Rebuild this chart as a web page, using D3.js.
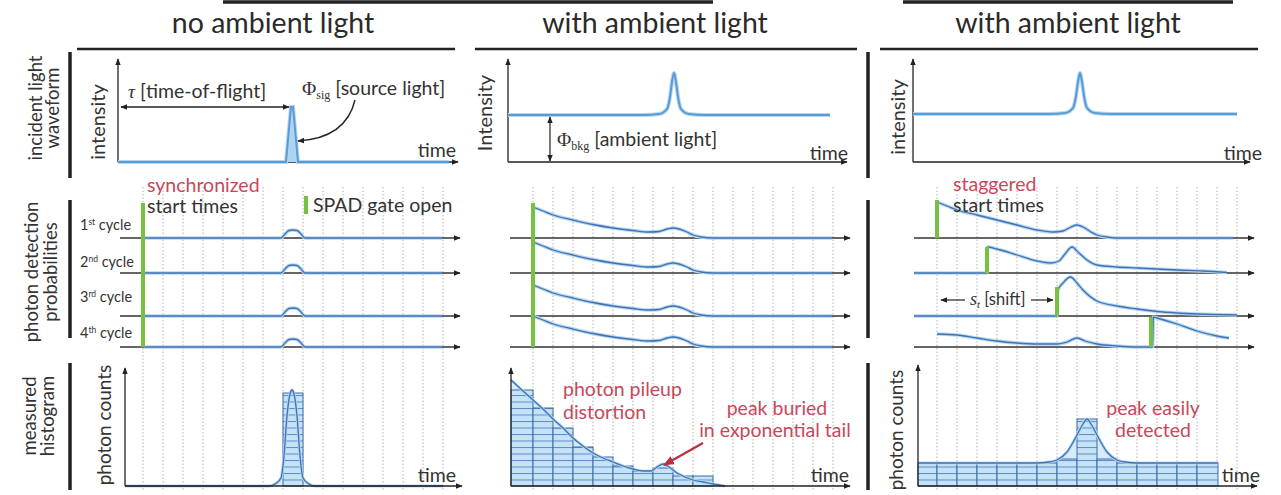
<!DOCTYPE html>
<html lang="en">
<head>
  <meta charset="UTF-8">
  <title>SPAD pileup</title>
  <script src="https://d3js.org/d3.v7.min.js"></script>
  <style>
    body { margin: 0; background: #fff; }
    text { font-family: Lato, "Open Sans", sans-serif; fill: #333; }
  </style>
</head>
<body>
<script>
  // ---- data (time in gate-bin units, values in arbitrary units) ----
  var columnTitles = ["no ambient light", "with ambient light", "with ambient light"];
  var rowLabels = [["incident light", "waveform"], ["photon detection", "probabilities"], ["measured", "histogram"]];
  var cycleNumbers = ["1", "2", "3", "4"];
  var cycleSuffix = ["st", "nd", "rd", "th"];
  var binEdges = [0, 1, 2, 3, 4, 5, 6, 7, 8, 9, 10, 11, 12, 13, 14, 15];

  // incident light waveform: [time, intensity]
  var waveNoAmbient = [[-1.25, 0], [7.15, 0], [7.4, 55], [7.5, 55], [7.75, 0], [15.3, 0]];
  var waveAmbient = [[-1.25, 47], [5.5, 47], [6.3, 48], [6.7, 53], [6.85, 65], [6.95, 80], [7.05, 89],
                     [7.15, 80], [7.25, 65], [7.4, 53], [7.8, 48], [8.6, 47], [14.85, 47]];
  var waveStagger = [[-1.2, 48], [5.6, 48], [6.4, 49], [6.8, 54], [6.95, 66], [7.05, 80], [7.15, 89],
                     [7.25, 80], [7.35, 66], [7.5, 54], [7.9, 49], [8.7, 48], [15, 48]];

  // photon detection probability per cycle: [time, probability]
  var cycleNoAmbient = [[0, 0], [6.9, 0], [7.1, 4], [7.3, 7.5], [7.5, 8], [7.7, 7.5], [7.9, 4], [8.1, 0], [14.95, 0]];
  var cycleAmbient = [[0, 31], [0.5, 27], [1, 23], [2, 18], [3, 13.5], [4, 10], [5, 7.5], [5.8, 6], [6.3, 6.5],
                      [6.7, 9], [7, 10], [7.3, 9], [7.7, 6], [8, 3], [8.4, 1], [9, 0], [14.95, 0]];
  var cycleStagger1 = [[0, 36], [0.5, 32], [1, 28], [2, 23], [3, 18], [4, 13], [5, 8], [5.8, 6], [6.3, 7],
                       [6.7, 11], [7, 13], [7.3, 11], [7.7, 6], [8, 3], [8.5, 1], [9, 0], [14.8, 0]];
  var cycleStagger2 = [[-1.15, 0], [2.5, 0], [2.52, 26], [3, 24], [4, 18], [5, 12], [5.7, 10], [6.1, 12],
                       [6.4, 19], [6.75, 26], [7.1, 20], [7.5, 13], [8, 8], [9, 6], [10, 5], [11, 4],
                       [12, 3], [13.3, 2], [14.5, 0.5]];
  var cycleStagger3 = [[-1.15, 0], [6, 0], [6.05, 26], [6.3, 33], [6.67, 39], [7, 33], [7.3, 26], [8, 15],
                       [9, 10], [10, 7], [11, 4.5], [12, 3], [13, 2], [15, 1]];
  var cycleStagger4 = [[0, 13], [1, 12], [2, 9], [3, 6], [4, 4], [5, 3], [6, 3], [6.5, 5], [7, 9], [7.4, 6],
                       [8, 3], [9, 1], [10, 0], [10.78, 0], [10.82, 30], [11, 29], [12, 23], [13, 16],
                       [14, 11], [14.6, 9]];
  // SPAD gate openings: [time, height]
  var gatesSync = [[0, 144]];
  var gatesStagger = [[0, 38], [2.5, 26], [6, 29], [10.7, 30]];

  // histograms: bins [start, end, count] and expected curve [time, count]
  var histNoAmbientBins = [[7, 8, 93]];
  var histNoAmbientCurve = [[-0.9, 0], [6.3, 0], [6.6, 2], [6.9, 8], [7.05, 30], [7.2, 70], [7.35, 92],
                            [7.45, 96], [7.55, 92], [7.7, 70], [7.85, 30], [8, 8], [8.3, 2], [8.6, 0], [15, 0]];
  var histAmbientBins = [[-1.1, 0, 96], [0, 1, 78], [1, 2, 58], [2, 3, 39], [3, 4, 29], [4, 5, 20],
                         [5, 6, 15], [6, 7, 18], [7, 8, 10], [8, 9, 10]];
  var histAmbientCurve = [[-1.1, 106], [-0.5, 95], [0, 86], [0.5, 77], [1, 67], [1.5, 58], [2, 48],
                          [2.5, 40], [3, 33], [3.5, 28], [4, 24], [4.5, 20], [5, 17], [5.5, 15], [5.9, 15],
                          [6.2, 19], [6.5, 22], [6.8, 19], [7.2, 13], [7.6, 9], [8, 6], [8.5, 4], [9, 2], [9.6, 0]];
  var histStaggerBins = [[-0.95, 0, 23], [0, 1, 23], [1, 2, 23], [2, 3, 23], [3, 4, 23], [4, 5, 23],
                         [5, 6, 23], [6, 7, 27], [7, 8, 67], [8, 9, 27], [9, 10, 23], [10, 11, 23],
                         [11, 12, 23], [12, 13, 23], [13, 14.05, 23]];
  var histStaggerCurve = [[-0.95, 23], [5, 23], [5.6, 24], [6, 26], [6.5, 34], [7, 51], [7.3, 62], [7.5, 67],
                          [7.7, 62], [8, 51], [8.5, 34], [9, 26], [9.4, 24], [10, 23], [14.05, 23]];

  // ---- layout ----
  var w = 1281, h = 495;
  var colX0 = [143, 533, 937];
  var blue = "#5b9bd5", darkBlue = "#4072b4", halo = "#b5d6f2", green = "#74c23f", red = "#c8485a";
  var smooth = d3.curveMonotoneX;

  function colScale(c) {
    return d3.scaleLinear().domain([0, 15]).range([colX0[c], colX0[c] + 300]);
  }

  var svg = d3.select("body").append("svg").attr("width", w).attr("height", h);
  var defs = svg.append("defs");

  function addMarker(id, color, size) {
    defs.append("marker").attr("id", id)
      .attr("viewBox", "0 0 10 10").attr("refX", 9).attr("refY", 5)
      .attr("markerWidth", size).attr("markerHeight", size)
      .attr("markerUnits", "userSpaceOnUse").attr("orient", "auto-start-reverse")
      .append("path").attr("d", "M0,1L10,5L0,9z").attr("fill", color);
  }
  addMarker("arr", "#222", 7);
  addMarker("arrRed", "#b8303f", 11);

  var pat = defs.append("pattern").attr("id", "hatch").attr("patternUnits", "userSpaceOnUse")
    .attr("x", 0).attr("y", 486).attr("width", 20).attr("height", 6.5);
  pat.append("rect").attr("width", 20).attr("height", 6.5).attr("fill", "#c6e2f7");
  pat.append("line").attr("x1", 0).attr("x2", 20).attr("y1", 0.5).attr("y2", 0.5)
    .attr("stroke", "#5b8cc8").attr("stroke-width", 1);

  function line(x1, y1, x2, y2, opts) {
    opts = opts || {};
    var l = svg.append("line").attr("x1", x1).attr("y1", y1).attr("x2", x2).attr("y2", y2)
      .attr("stroke", opts.color || "#222").attr("stroke-width", opts.width || 1.3);
    if (opts.end) l.attr("marker-end", "url(#" + opts.end + ")");
    if (opts.start) l.attr("marker-start", "url(#" + opts.start + ")");
    return l;
  }

  function label(x, y, str, opts) {
    opts = opts || {};
    var t = svg.append("text").attr("x", x).attr("y", y).text(str)
      .style("font-size", (opts.size || 19.5) + "px")
      .attr("text-anchor", opts.anchor || "start");
    if (opts.color) t.style("fill", opts.color);
    if (opts.rotate) t.attr("x", 0).attr("y", 0).attr("transform", "translate(" + x + "," + y + ") rotate(-90)");
    return t;
  }

  // ---- headers ----
  line(223, 2, 713, 2, {width: 3.5});
  line(903, 2, 1233, 2, {width: 3.5});
  var titleX = [273, 655, 1068];
  columnTitles.forEach(function(t, i) { label(titleX[i], 33, t, {size: 28.5, anchor: "middle"}).style("fill", "#2a2a2a"); });
  [[77, 455], [475, 857], [880, 1258]].forEach(function(s) { line(s[0], 49, s[1], 49, {width: 2.5}); });

  // row labels and side bars
  var rowBars = [[52, 178], [200, 338], [363, 490]];
  var rowLabelPos = [[42, 59, 108], [38, 57, 272], [36, 54, 416]];
  rowLabels.forEach(function(r, i) {
    label(rowLabelPos[i][0], rowLabelPos[i][2], r[0], {size: 18.5, anchor: "middle", rotate: true});
    label(rowLabelPos[i][1], rowLabelPos[i][2], r[1], {size: 18.5, anchor: "middle", rotate: true});
    line(70, rowBars[i][0], 70, rowBars[i][1], {width: 3.5});
    line(868, rowBars[i][0], 868, rowBars[i][1], {width: 3.5});
  });

  // ---- gridlines (rows 2 and 3) ----
  [0, 1, 2].forEach(function(c) {
    var x = colScale(c);
    svg.append("g").selectAll("line").data(binEdges).enter().append("line")
      .attr("x1", function(d) { return x(d); }).attr("x2", function(d) { return x(d); })
      .attr("y1", 187).attr("y2", 490)
      .attr("stroke", "#b3b3b3").attr("stroke-width", 1).attr("stroke-dasharray", "1.5,2");
  });

  // ---- row 1: incident light ----
  var topY = d3.scaleLinear().domain([0, 100]).range([162, 62]);
  var topAxisStart = [-1.25, -1.25, -1.2], topAxisEnd = [15.75, 15.7, 15.65];
  var topWaves = [waveNoAmbient, waveAmbient, waveStagger];
  topWaves.forEach(function(data, c) {
    var x = colScale(c);
    var x0 = x(topAxisStart[c]);
    line(x0, 162, x0, 59, {end: "arr", width: 1.3});
    line(x0, 162, x(topAxisEnd[c]), 162, {end: "arr", width: 1.3});
    var gen = d3.line().x(function(d) { return x(d[0]); }).y(function(d) { return topY(d[1]); })
      .curve(c === 0 ? d3.curveLinear : smooth);
    if (c === 0) {
      svg.append("path").datum(data)
        .attr("d", d3.area().x(function(d) { return x(d[0]); }).y0(topY(0)).y1(function(d) { return topY(d[1]); }))
        .attr("fill", "#aed4f3");
    }
    svg.append("path").datum(data).attr("d", gen).attr("fill", "none").attr("stroke", halo).attr("stroke-width", 4);
    svg.append("path").datum(data).attr("d", gen).attr("fill", "none").attr("stroke", blue).attr("stroke-width", 2);
  });
  label(105, 122, "intensity", {size: 20, anchor: "middle", rotate: true});
  label(492, 113, "Intensity", {size: 20, anchor: "middle", rotate: true});
  label(905, 117, "intensity", {size: 20, anchor: "middle", rotate: true});
  label(456, 157, "time", {anchor: "end"});
  label(848, 160, "time", {anchor: "end"});
  label(1262, 160, "time", {anchor: "end"});

  // annotations row 1
  line(121, 107, 289, 107, {start: "arr", end: "arr", width: 1.3});
  var tau = label(128, 98, "", {size: 19.5});
  tau.append("tspan").text("τ").style("font-family", "Liberation Serif, serif").style("font-style", "italic");
  tau.append("tspan").text(" [time-of-flight]");
  var phiSig = label(302, 95, "", {size: 19.5});
  phiSig.append("tspan").text("Φ").style("font-family", "Liberation Serif, serif");
  phiSig.append("tspan").text("sig").attr("dy", 4).style("font-size", "12px").style("font-family", "Liberation Serif, serif");
  phiSig.append("tspan").text(" [source light]").attr("dy", -4);
  svg.append("path").attr("d", "M355,100 Q346,138 298,141").attr("fill", "none")
    .attr("stroke", "#222").attr("stroke-width", 1.4).attr("marker-end", "url(#arr)");
  line(550, 117, 550, 161, {start: "arr", end: "arr", width: 1.2});
  var phiBkg = label(557, 146, "", {size: 19.5});
  phiBkg.append("tspan").text("Φ").style("font-family", "Liberation Serif, serif");
  phiBkg.append("tspan").text("bkg").attr("dy", 4).style("font-size", "12px").style("font-family", "Liberation Serif, serif");
  phiBkg.append("tspan").text(" [ambient light]").attr("dy", -4);

  // ---- row 2: photon detection probabilities ----
  var cycleAxisY = [238, 273, 316, 347];
  var cycleData = [
    [cycleNoAmbient, cycleNoAmbient, cycleNoAmbient, cycleNoAmbient],
    [cycleAmbient, cycleAmbient, cycleAmbient, cycleAmbient],
    [cycleStagger1, cycleStagger2, cycleStagger3, cycleStagger4]
  ];
  cycleData.forEach(function(col, c) {
    var x = colScale(c);
    col.forEach(function(data, k) {
      var y = d3.scaleLinear().domain([0, 40]).range([cycleAxisY[k], cycleAxisY[k] - 40]);
      line(x(-1.15), y(0), x(15.85), y(0), {end: "arr", width: 1.3, color: "#333"});
      var gen = d3.line().x(function(d) { return x(d[0]); }).y(function(d) { return y(d[1]); }).curve(smooth);
      svg.append("path").datum(data).attr("d", gen).attr("fill", "none").attr("stroke", halo).attr("stroke-width", 3.5);
      svg.append("path").datum(data).attr("d", gen).attr("fill", "none").attr("stroke", darkBlue).attr("stroke-width", 1.3);
    });
  });
  // gates
  [0, 1].forEach(function(c) {
    var x = colScale(c);
    gatesSync.forEach(function(g) {
      svg.append("rect").attr("x", x(g[0]) - 2).attr("y", cycleAxisY[3] - g[1]).attr("width", 4)
        .attr("height", g[1]).attr("fill", green);
    });
  });
  var xs = colScale(2);
  gatesStagger.forEach(function(g, k) {
    svg.append("rect").attr("x", xs(g[0]) - 2).attr("y", cycleAxisY[k] - g[1]).attr("width", 4)
      .attr("height", g[1]).attr("fill", green);
  });
  var cycleLabelY = [230, 267, 302, 338];
  cycleNumbers.forEach(function(n, k) {
    var t = label(80, cycleLabelY[k], "", {size: 14.5});
    t.append("tspan").text(n);
    t.append("tspan").text(cycleSuffix[k]).attr("dy", -5).style("font-size", "8.5px");
    t.append("tspan").text(" cycle").attr("dy", 5);
  });
  label(147, 192, "synchronized", {color: red});
  label(147, 213, "start times");
  svg.append("rect").attr("x", 304).attr("y", 196).attr("width", 4).attr("height", 18).attr("fill", green);
  label(313, 212, "SPAD gate open");
  label(953, 191, "staggered", {color: red});
  label(953, 212, "start times");
  line(941, 300, 965, 300, {start: "arr", width: 1.2});
  line(1031, 300, 1053, 300, {end: "arr", width: 1.2});
  var shift = label(970, 305, "", {size: 16.5});
  shift.append("tspan").text("s").style("font-family", "Liberation Serif, serif").style("font-style", "italic").style("font-size", "18px");
  shift.append("tspan").text("t").attr("dy", 3).style("font-family", "Liberation Serif, serif").style("font-style", "italic").style("font-size", "11px");
  shift.append("tspan").text(" [shift]").attr("dy", -3);

  // ---- row 3: histograms ----
  var histY = d3.scaleLinear().domain([0, 100]).range([486, 386]);
  var histAxisStart = [-0.9, -1.1, -0.95], histAxisEnd = [15.95, 15.85, 16.0], histAxisTop = [368, 368, 365];
  var histBins = [histNoAmbientBins, histAmbientBins, histStaggerBins];
  var histCurves = [histNoAmbientCurve, histAmbientCurve, histStaggerCurve];
  [0, 1, 2].forEach(function(c) {
    var x = colScale(c);
    var x0 = x(histAxisStart[c]);
    var gen = d3.line().x(function(d) { return x(d[0]); }).y(function(d) { return histY(d[1]); }).curve(smooth);
    var area = d3.area().x(function(d) { return x(d[0]); }).y0(histY(0)).y1(function(d) { return histY(d[1]); })
      .curve(smooth);
    svg.append("path").datum(histCurves[c]).attr("d", area).attr("fill", "#d8ebfa");
    svg.append("g").selectAll("rect").data(histBins[c]).enter().append("rect")
      .attr("x", function(d) { return x(d[0]); })
      .attr("width", function(d) { return x(d[1]) - x(d[0]); })
      .attr("y", function(d) { return histY(d[2]); })
      .attr("height", function(d) { return histY(0) - histY(d[2]); })
      .attr("fill", "url(#hatch)").attr("stroke", "#3d6aa5").attr("stroke-width", 1);
    svg.append("path").datum(histCurves[c]).attr("d", gen).attr("fill", "none").attr("stroke", halo).attr("stroke-width", 3);
    svg.append("path").datum(histCurves[c]).attr("d", gen).attr("fill", "none").attr("stroke", darkBlue).attr("stroke-width", 1.3);
    line(x0, 486, x0, histAxisTop[c], {end: "arr", width: 1.3});
    line(x0, 486, x(histAxisEnd[c]), 486, {end: "arr", width: 1.3});
  });
  label(111, 425, "photon counts", {size: 19, anchor: "middle", rotate: true});
  label(903, 430, "photon counts", {size: 19, anchor: "middle", rotate: true});
  label(456, 482, "time", {anchor: "end"});
  label(849, 482, "time", {anchor: "end"});
  label(1260, 482, "time", {anchor: "end"});

  label(563, 396, "photon pileup", {color: red});
  label(563, 419, "distortion", {color: red});
  label(777, 415, "peak buried", {color: red, anchor: "middle"});
  label(775, 437, "in exponential tail", {color: red, anchor: "middle"});
  line(703, 443, 664, 465, {color: "#b8303f", width: 2.2, end: "arrRed"});
  label(1153, 415, "peak easily", {color: red, anchor: "middle"});
  label(1153, 437, "detected", {color: red, anchor: "middle"});
</script>
</body>
</html>
